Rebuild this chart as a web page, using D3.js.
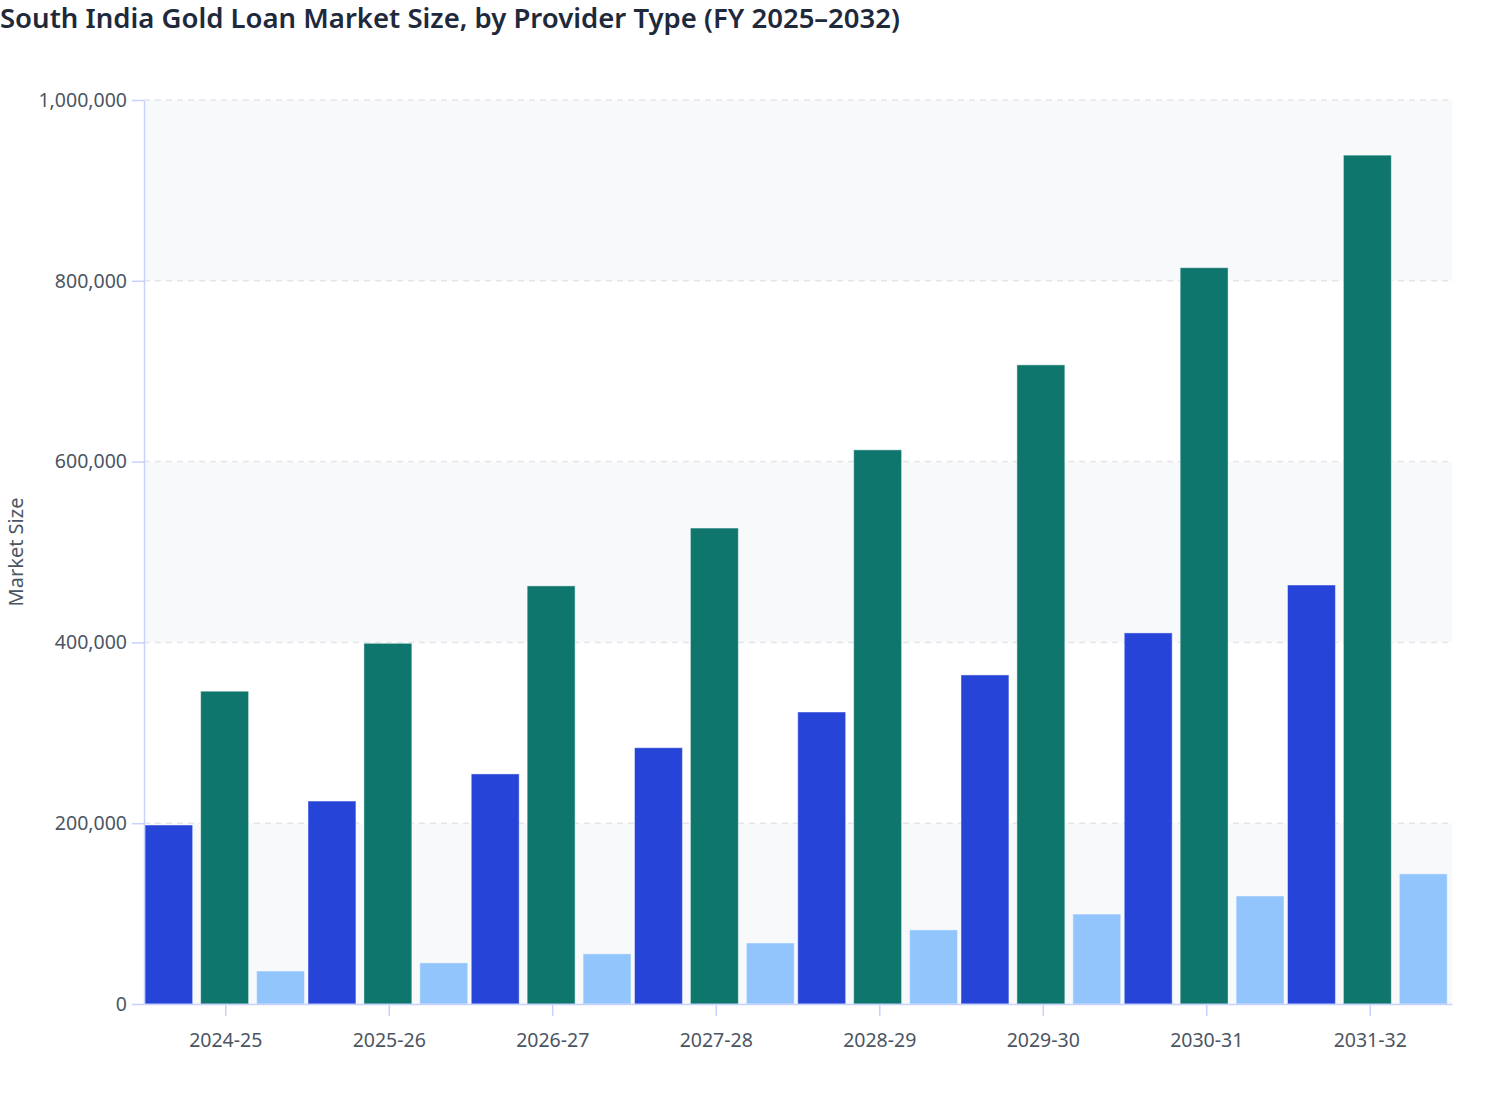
<!DOCTYPE html>
<html>
<head>
<meta charset="utf-8">
<script src="https://cdn.jsdelivr.net/npm/d3@7"></script>
<style>
  body { margin: 0; background: #fff; }
  svg { font-family: "Noto Sans", "Open Sans", sans-serif; }
</style>
</head>
<body>
<svg id="chart"></svg>
<script>
// values
var years = ["2024-25", "2025-26", "2026-27", "2027-28", "2028-29", "2029-30", "2030-31", "2031-32"];
var seriesNames = ["Banks", "NBFCs", "Others"];
var banks = [198000, 224500, 254500, 283500, 323000, 364000, 410500, 463500];
var nbfcs = [346000, 399000, 462500, 526500, 613000, 707000, 814500, 939000];
var others = [36500, 45500, 55500, 67500, 82000, 99500, 119500, 144000];
var yTicks = [0, 200000, 400000, 600000, 800000, 1000000];
var colors = ["#2744d8", "#0f766e", "#93c5fd"];

var width = 1508, height = 1120;
var margin = {top: 100, right: 56, bottom: 116, left: 144};

var svg = d3.select("#chart")
  .attr("width", width)
  .attr("height", height);

var series = [banks, nbfcs, others];
var rows = years.map(function(y, i) {
  return {year: y, vals: series.map(function(s, j) { return {name: seriesNames[j], k: j, v: s[i]}; })};
});

// bars sit a touch left of the tick, like the original
var x0 = d3.scaleBand()
  .domain(years)
  .range([margin.left - 1, width - margin.right - 3])
  .paddingInner(0.0214)
  .paddingOuter(0.0107);

var xTickScale = x0.copy().range([margin.left, width - margin.right]);

var x1 = d3.scaleBand()
  .domain(seriesNames)
  .range([0, x0.bandwidth()])
  .paddingInner(0.143);

var y = d3.scaleLinear()
  .domain([0, 1000000])
  .range([height - margin.bottom, margin.top]);

// alternating bands
for (var i = 0; i < yTicks.length - 1; i++) {
  if (i % 2 == 0) {
    svg.append("rect")
      .attr("x", margin.left)
      .attr("y", y(yTicks[i + 1]))
      .attr("width", width - margin.right - margin.left)
      .attr("height", y(yTicks[i]) - y(yTicks[i + 1]))
      .attr("fill", "#f8f9fb");
  }
}

// grid
svg.selectAll(".grid")
  .data(yTicks.slice(1))
  .enter()
  .append("line")
  .attr("x1", margin.left)
  .attr("x2", width - margin.right)
  .attr("y1", function(d) { return y(d); })
  .attr("y2", function(d) { return y(d); })
  .attr("stroke", "#e2e5ea")
  .attr("stroke-width", 1.5)
  .attr("stroke-dasharray", "6,5");

// bars
var g = svg.selectAll(".group")
  .data(rows)
  .enter()
  .append("g")
  .attr("transform", function(d) { return "translate(" + x0(d.year) + ",0)"; });

g.selectAll("rect")
  .data(function(d) { return d.vals; })
  .enter()
  .append("rect")
  .attr("x", function(d) { return x1(d.name); })
  .attr("y", function(d) { return y(d.v); })
  .attr("width", x1.bandwidth())
  .attr("height", function(d) { return y(0) - y(d.v); })
  .attr("fill", function(d) { return colors[d.k]; })
  .attr("stroke", "rgba(255,255,255,0.45)")
  .attr("stroke-width", 1);

// axes
var yAxis = svg.append("g")
  .attr("transform", "translate(" + margin.left + ",0)")
  .call(d3.axisLeft(y).tickValues(yTicks).tickSize(12).tickSizeOuter(0).tickPadding(5).tickFormat(d3.format(",")));

var xAxis = svg.append("g")
  .attr("transform", "translate(0," + y(0) + ")")
  .call(d3.axisBottom(xTickScale).tickSize(12).tickSizeOuter(0).tickPadding(17));

[yAxis, xAxis].forEach(function(a) {
  a.select(".domain").attr("stroke", "#c7d2fe").attr("stroke-width", 1.5);
  a.selectAll(".tick line").attr("stroke", "#c7d2fe").attr("stroke-width", 1.5);
  a.selectAll(".tick text")
    .attr("fill", "#4b5563")
    .attr("font-size", "19.5px")
    .attr("font-family", "'Noto Sans', 'Open Sans', sans-serif");
});

// y axis title
svg.append("text")
  .attr("transform", "translate(23," + (margin.top + (y(0) - margin.top) / 2) + ") rotate(-90)")
  .attr("text-anchor", "middle")
  .attr("font-size", "20px")
  .attr("fill", "#4b5563")
  .text("Market Size");

// title
svg.append("text")
  .attr("x", 0)
  .attr("y", 28)
  .attr("font-size", "27.5px")
  .attr("font-weight", 600)
  .attr("fill", "#1e293b")
  .text("South India Gold Loan Market Size, by Provider Type (FY 2025\u20132032)");
</script>
</body>
</html>
